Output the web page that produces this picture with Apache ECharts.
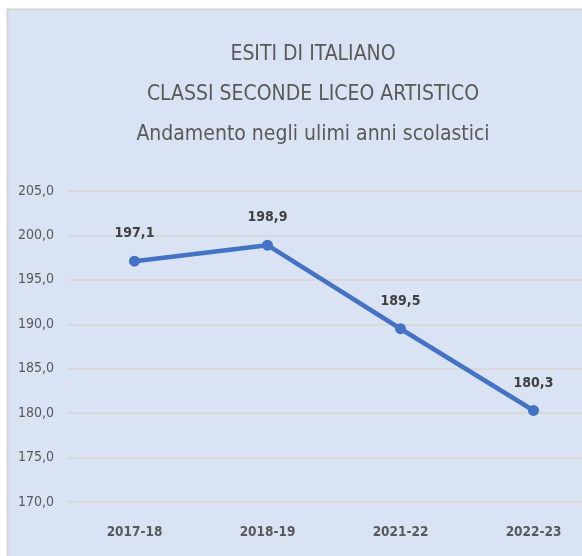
<!DOCTYPE html>
<html>
<head>
<meta charset="utf-8">
<script src="https://cdn.jsdelivr.net/npm/echarts@6/dist/echarts.min.js"></script>
<style>
  html, body { margin: 0; padding: 0; background: #ffffff; overflow: hidden; }
  #chart { width: 600px; height: 556px; }
</style>
</head>
<body>
<div id="chart"></div>
<script>
// anni scolastici e punteggi medi
var anni = ["2017-18", "2018-19", "2021-22", "2022-23"];
var punteggi = [197.1, 198.9, 189.5, 180.3];
var yMin = 170, yMax = 205, yStep = 5;

var font = "'DejaVu Sans Condensed', 'Liberation Sans Narrow', sans-serif";
var fmt = function (v) { return Number(v).toFixed(1).replace(".", ","); };

var chart = echarts.init(document.getElementById("chart"));

var option = {
    backgroundColor: "#ffffff",
    animation: false,
    graphic: [
        {
            type: "rect",
            z: -10,
            shape: { x: 7.5, y: 9.5, width: 620, height: 600 },
            style: { fill: "#DAE3F3", stroke: "#D4D4D4", lineWidth: 2 }
        }
    ],
    title: {
        text: "ESITI DI ITALIANO\nCLASSI SECONDE LICEO ARTISTICO\nAndamento negli ulimi anni scolastici",
        left: 308,
        top: 30,
        textAlign: "center",
        textStyle: {
            fontFamily: font,
            fontSize: 21,
            fontWeight: "normal",
            color: "#595959",
            lineHeight: 40
        }
    },
    grid: { left: 68, right: 0, top: 191, bottom: 54, containLabel: false },
    xAxis: {
        type: "category",
        data: anni,
        boundaryGap: true,
        axisLine: { show: false },
        axisTick: { show: false },
        axisLabel: {
            margin: 23,
            fontFamily: font,
            fontSize: 13.5,
            fontWeight: "bold",
            color: "#595959"
        }
    },
    yAxis: {
        type: "value",
        min: yMin,
        max: yMax,
        interval: yStep,
        axisLine: { show: false },
        axisTick: { show: false },
        splitLine: { lineStyle: { color: "#D9D9D9", width: 2 } },
        axisLabel: {
            margin: 14,
            fontFamily: font,
            fontSize: 14,
            color: "#595959",
            formatter: fmt
        }
    },
    series: [
        {
            type: "line",
            data: punteggi,
            symbol: "circle",
            symbolSize: 11,
            lineStyle: { color: "#4472C4", width: 4.5 },
            itemStyle: { color: "#4472C4" },
            label: {
                show: true,
                position: "top",
                distance: 15,
                fontFamily: font,
                fontSize: 14,
                fontWeight: "bold",
                color: "#404040",
                formatter: function (p) { return fmt(p.value); }
            }
        }
    ]
};

chart.setOption(option);
</script>
</body>
</html>
